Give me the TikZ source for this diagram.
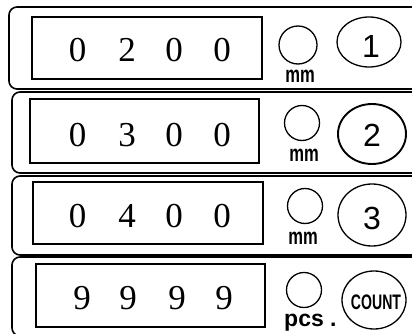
\documentclass[tikz,border=0pt]{standalone}
\usepackage{fontspec}
\setsansfont{Liberation Sans}
\newfontfamily\digitfont{Liberation Serif}
\usetikzlibrary{shapes.geometric}
\begin{document}
\begin{tikzpicture}[x=1pt,y=-1pt,
  panel/.style={draw, line width=1.6pt, rounded corners=8pt},
  display/.style={draw, line width=1.5pt, rectangle, inner sep=0pt},
  digit/.style={inner sep=0pt, font=\digitfont\fontsize{35}{35}\selectfont},
  lamp/.style={draw, circle, line width=1.3pt, inner sep=0pt},
  keybtn/.style={draw, ellipse, line width=1.3pt, inner sep=0pt},
  keytxt/.style={inner sep=0pt, font=\sffamily\fontsize{32}{32}\selectfont},
  unit/.style={inner sep=0pt, font=\sffamily\bfseries\fontsize{23}{23}\selectfont}
]
\useasboundingbox (0,0) rectangle (412,334);
\clip (0,0) rectangle (412,334);
% panels
\draw[panel] (430,7) -- (9,7) -- (9,89) -- (430,89);
\draw[panel] (430,92) -- (12,92) -- (12,173) -- (430,173);
\draw[panel] (430,176) -- (12,176) -- (12,255) -- (430,255);
\draw[panel] (430,257) -- (12,257) -- (12,336) -- (430,336);
% displays
\node[display, minimum width=230pt, minimum height=62pt] (box1) at (147,48) {};
\node[display, minimum width=229pt, minimum height=64pt] (box2) at (144.5,131) {};
\node[display, minimum width=230pt, minimum height=62pt] (box3) at (148,213) {};
\node[display, minimum width=229pt, minimum height=63pt] (box4) at (150.5,295.5) {};
% digits
\node[digit] (a1) at (77.5,50) {0};
\node[digit] (a2) at (127,50) {2};
\node[digit] (a3) at (174,50) {0};
\node[digit] (a4) at (222,50) {0};
\node[digit] (b1) at (77.5,135) {0};
\node[digit] (b2) at (127,135) {3};
\node[digit] (b3) at (174,135) {0};
\node[digit] (b4) at (222,135) {0};
\node[digit] (c1) at (77.5,216) {0};
\node[digit] (c2) at (127,216) {4};
\node[digit] (c3) at (174,216) {0};
\node[digit] (c4) at (222,216) {0};
\node[digit] (e1) at (82,298) {9};
\node[digit] (e2) at (128,298) {9};
\node[digit] (e3) at (177,298) {9};
\node[digit] (e4) at (224,298) {9};
% lamps
\node[lamp, minimum size=38pt] (l1) at (298,45) {};
\node[lamp, minimum size=35pt] (l2) at (302,123) {};
\node[lamp, minimum size=35pt] (l3) at (305,206) {};
\node[lamp, minimum size=35pt] (l4) at (304,290) {};
% units
\node[unit] (u1) at (300,76) {\scalebox{0.72}[1]{mm}};
\node[unit] (u2) at (304,155) {\scalebox{0.72}[1]{mm}};
\node[unit] (u3) at (303,238) {\scalebox{0.72}[1]{mm}};
\node[unit, anchor=base west] (u4) at (284,326) {pcs .};
% keys
\node[keybtn, minimum width=64pt, minimum height=50pt] (k1) at (369,42) {};
\node[keybtn, line width=1.9pt, minimum width=68pt, minimum height=60pt] (k2) at (372,134) {};
\node[keybtn, minimum width=68pt, minimum height=62pt] (k3) at (372,215) {};
\node[keybtn, minimum width=64pt, minimum height=58pt] (k4) at (374,300) {};
\node[keytxt] (t1) at (371,46) {1};
\node[keytxt] (t2) at (372,135) {2};
\node[keytxt] (t3) at (372,218) {3};
\node[keytxt, font=\sffamily\bfseries\fontsize{21}{21}\selectfont] (t4) at (376,302) {\scalebox{0.67}[1]{COUNT}};
\end{tikzpicture}
\end{document}
